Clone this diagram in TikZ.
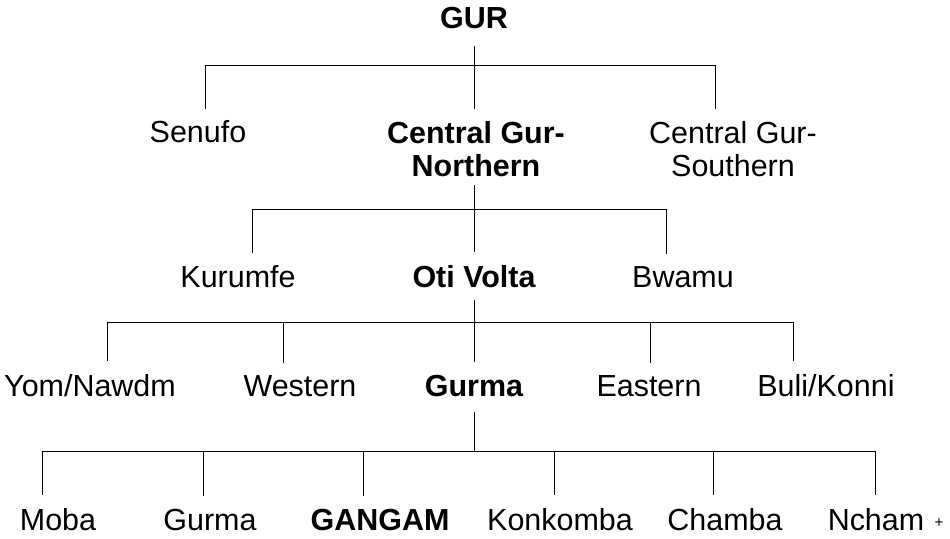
\documentclass[tikz,border=0pt]{standalone}
\usepackage{fontspec}
\setmainfont{Liberation Sans}
\usetikzlibrary{positioning}

\begin{document}
\begin{tikzpicture}[x=0.03cm,y=-0.03cm,line width=0.75pt,
lang/.style={inner sep=0pt,anchor=base,font=\fontsize{26}{28}\selectfont},
main/.style={lang,font=\fontsize{26}{28}\selectfont\bfseries},
drop/.style={shorten >=0.36cm}]
 \useasboundingbox (0,0) rectangle (950,539);
 % level 0 and 1
 \node[main] (gur) at (474,29) {GUR};
 \node[lang] (senufo) at (198,143) {Senufo};
 \node[main,anchor=north,align=center] (cgn) at (476,121) {Central Gur-\\Northern};
 \node[lang,anchor=north,align=center] (cgs) at (733,121) {Central Gur-\\Southern};
 % level 2
 \node[lang] (kurumfe) at (238,287) {Kurumfe};
 \node[main] (oti) at (474,287) {Oti Volta};
 \node[lang] (bwamu) at (683,287) {Bwamu};
 % level 3
 \node[lang] (yom) at (90,396) {Yom/Nawdm};
 \node[lang] (western) at (300,396) {Western};
 \node[main] (gurma) at (474,396) {Gurma};
 \node[lang] (eastern) at (649,396) {Eastern};
 \node[lang] (buli) at (826,396) {Buli/Konni};
 % level 4
 \node[lang] (moba) at (58,530) {Moba};
 \node[lang] (gurmab) at (210,530) {Gurma};
 \node[main] (gangam) at (380,530) {GANGAM};
 \node[lang] (konkomba) at (560,530) {Konkomba};
 \node[lang] (chamba) at (725,530) {Chamba};
 \node[lang] (ncham) at (876,530) {Ncham};
 \node[lang,font=\fontsize{13}{13}\selectfont] (mark) at (939,527) {+};

 % GUR
 \draw[shorten <=0.5cm] (gur.south -| 474,0) -- (474,65);
 \draw (205,65) -- (715,65);
 \foreach \n/\x in {senufo/205,cgn/474,cgs/715}
  \draw[drop] (\x,65) -- (\n.north -| \x,0);
 % Central Gur-Northern
 \draw[shorten <=0.24cm] (cgn.south -| 474,0) -- (474,209);
 \draw (252,209) -- (666,209);
 \foreach \n/\x in {kurumfe/252,oti/474,bwamu/666}
  \draw[drop] (\x,209) -- (\n.north -| \x,0);
 % Oti Volta
 \draw[shorten <=0.36cm] (oti.south -| 474,0) -- (474,322);
 \draw (107,322) -- (793,322);
 \foreach \n/\x in {yom/107,western/283,gurma/474,eastern/650,buli/793}
  \draw[drop] (\x,322) -- (\n.north -| \x,0);
 % Gurma
 \draw[shorten <=0.45cm] (gurma.south -| 474,0) -- (474,451);
 \draw (42,451) -- (875,451);
 \foreach \n/\x in {moba/42,gurmab/203,gangam/363,konkomba/554,chamba/713,ncham/875}
  \draw[drop] (\x,451) -- (\n.north -| \x,0);
\end{tikzpicture}
\end{document}
